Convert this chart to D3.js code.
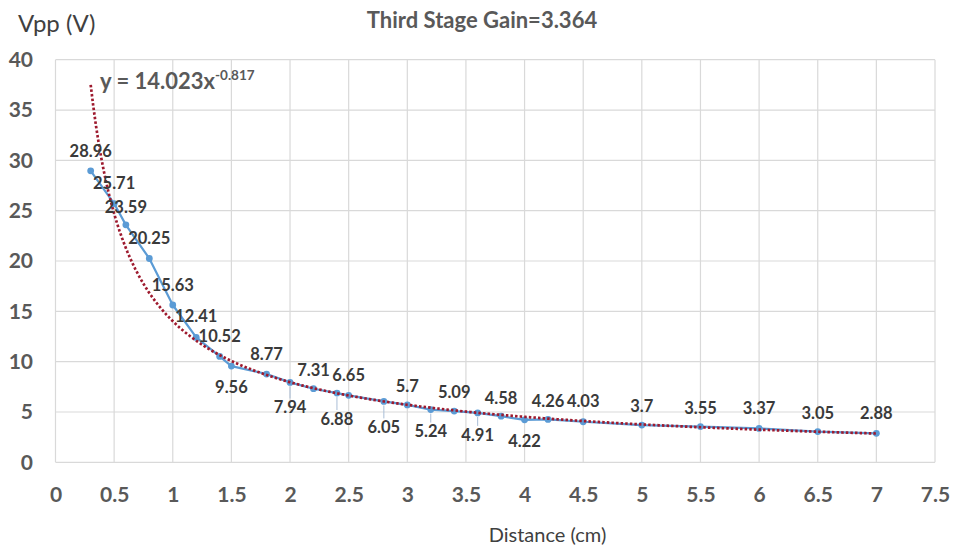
<!DOCTYPE html>
<html>
<head>
<meta charset="utf-8">
<script src="https://cdn.jsdelivr.net/npm/d3@7"></script>
<style>
  html, body { margin: 0; padding: 0; background: #fff; }
  svg { display: block; }
  text { font-family: Lato, "Open Sans", sans-serif; }
</style>
</head>
<body>
<svg id="chart" width="953" height="548"></svg>
<script>
// Measured peak-to-peak voltage vs. sensor distance
const distance = [0.3, 0.5, 0.6, 0.8, 1.0, 1.2, 1.4, 1.5, 1.8, 2.0, 2.2, 2.4, 2.5, 2.8,
                  3.0, 3.2, 3.4, 3.6, 3.8, 4.0, 4.2, 4.5, 5, 5.5, 6, 6.5, 7];
const vpp = [28.96, 25.71, 23.59, 20.25, 15.63, 12.41, 10.52, 9.56, 8.77, 7.94, 7.31, 6.88,
             6.65, 6.05, 5.7, 5.24, 5.09, 4.91, 4.58, 4.22, 4.26, 4.03, 3.7, 3.55, 3.37, 3.05, 2.88];

// Power-law trendline fit: y = a * x^b
const trendA = 14.023;
const trendB = -0.817;

const xTicks = [0, 0.5, 1, 1.5, 2, 2.5, 3, 3.5, 4, 4.5, 5, 5.5, 6, 6.5, 7, 7.5];
const yTicks = [0, 5, 10, 15, 20, 25, 30, 35, 40];

// Vertical offset (px) of each value label relative to its point; positive = below
const labelShift = [-20, -20, -18, -20, -20, -21, -20, 21, -20, 25, -19, 26,
                    -20, 26, -19, 22, -19, 22, -18, 21, -18, -21, -19, -19, -20, -19, -20];

const svg = d3.select("#chart");
const plotLeft = 55.5, plotRight = 935, plotTop = 59.7, plotBottom = 462.3;

const x = d3.scaleLinear().domain([0, 7.5]).range([plotLeft, plotRight]);
const y = d3.scaleLinear().domain([0, 40]).range([plotBottom, plotTop]);

const gridColor = "#d9d9d9";

// Gridlines
svg.append("g")
  .selectAll("line")
  .data(xTicks)
  .join("line")
  .attr("x1", d => x(d)).attr("x2", d => x(d))
  .attr("y1", plotTop).attr("y2", plotBottom)
  .attr("stroke", gridColor).attr("stroke-width", 1.2);

svg.append("g")
  .selectAll("line")
  .data(yTicks)
  .join("line")
  .attr("x1", plotLeft).attr("x2", plotRight)
  .attr("y1", d => y(d)).attr("y2", d => y(d))
  .attr("stroke", gridColor).attr("stroke-width", 1.2);

// Axes (labels only)
const xAxis = svg.append("g")
  .attr("transform", `translate(0,${plotBottom})`)
  .call(d3.axisBottom(x).tickValues(xTicks).tickSize(0).tickPadding(24.5)
        .tickFormat(d3.format("~g")));
xAxis.select(".domain").remove();
xAxis.selectAll("text")
  .attr("fill", "#595959")
  .style("font-family", "Lato, sans-serif")
  .style("font-size", "21px")
  .style("font-weight", "bold");

const yAxis = svg.append("g")
  .attr("transform", `translate(${plotLeft},0)`)
  .call(d3.axisLeft(y).tickValues(yTicks).tickSize(0).tickPadding(22.5));
yAxis.select(".domain").remove();
yAxis.selectAll("text")
  .attr("fill", "#595959")
  .style("font-family", "Lato, sans-serif")
  .style("font-size", "21px")
  .style("font-weight", "bold");

const pts = distance.map((d, i) => ({ x: d, y: vpp[i], shift: labelShift[i] }));

// Data series
svg.append("path")
  .datum(pts)
  .attr("fill", "none")
  .attr("stroke", "#5b9bd5")
  .attr("stroke-width", 2.2)
  .attr("stroke-linejoin", "round")
  .attr("d", d3.line().x(d => x(d.x)).y(d => y(d.y)));

svg.append("g")
  .selectAll("circle")
  .data(pts)
  .join("circle")
  .attr("cx", d => x(d.x))
  .attr("cy", d => y(d.y))
  .attr("r", 3.4)
  .attr("fill", "#5b9bd5");

// Leader lines for labels pushed below their points
svg.append("g")
  .selectAll("line")
  .data(pts.filter(d => d.shift >= 22))
  .join("line")
  .attr("x1", d => x(d.x)).attr("x2", d => x(d.x))
  .attr("y1", d => y(d.y) + 4)
  .attr("y2", d => y(d.y) + d.shift - 9)
  .attr("stroke", "#a9bdd6")
  .attr("stroke-width", 1);

// Trendline
const xMin = d3.min(distance), xMax = d3.max(distance);
const trendPts = d3.range(0, 301).map(i => {
  const xv = xMin + (xMax - xMin) * i / 300;
  return { x: xv, y: trendA * Math.pow(xv, trendB) };
});
svg.append("path")
  .datum(trendPts)
  .attr("fill", "none")
  .attr("stroke", "#9e1a2e")
  .attr("stroke-width", 2.7)
  .attr("stroke-dasharray", "2.5 2.1")
  .attr("d", d3.line().x(d => x(d.x)).y(d => y(d.y)));

// Value labels
svg.append("g")
  .selectAll("text")
  .data(pts)
  .join("text")
  .attr("x", d => x(d.x))
  .attr("y", d => y(d.y) + d.shift)
  .attr("dy", "0.36em")
  .attr("text-anchor", "middle")
  .attr("fill", "#3a3a3a")
  .style("font-size", "16.5px")
  .style("font-weight", "bold")
  .text(d => d.y);

// Trendline equation
const eq = svg.append("text")
  .attr("x", 100).attr("y", 89)
  .attr("fill", "#595959")
  .style("font-size", "22px")
  .style("font-weight", "bold");
eq.append("tspan").text(`y = ${trendA}x`);
eq.append("tspan").attr("dy", -9).style("font-size", "13.5px").text(`${trendB}`);

// Titles
svg.append("text")
  .attr("x", 482).attr("y", 28)
  .attr("text-anchor", "middle")
  .attr("fill", "#595959")
  .style("font-size", "22px")
  .style("font-weight", "bold")
  .text("Third Stage Gain=3.364");

svg.append("text")
  .attr("x", 18).attr("y", 32)
  .attr("fill", "#404040")
  .style("font-size", "24px")
  .text("Vpp (V)");

svg.append("text")
  .attr("x", 547.5).attr("y", 542)
  .attr("text-anchor", "middle")
  .attr("fill", "#404040")
  .style("font-size", "20px")
  .text("Distance (cm)");
</script>
</body>
</html>
